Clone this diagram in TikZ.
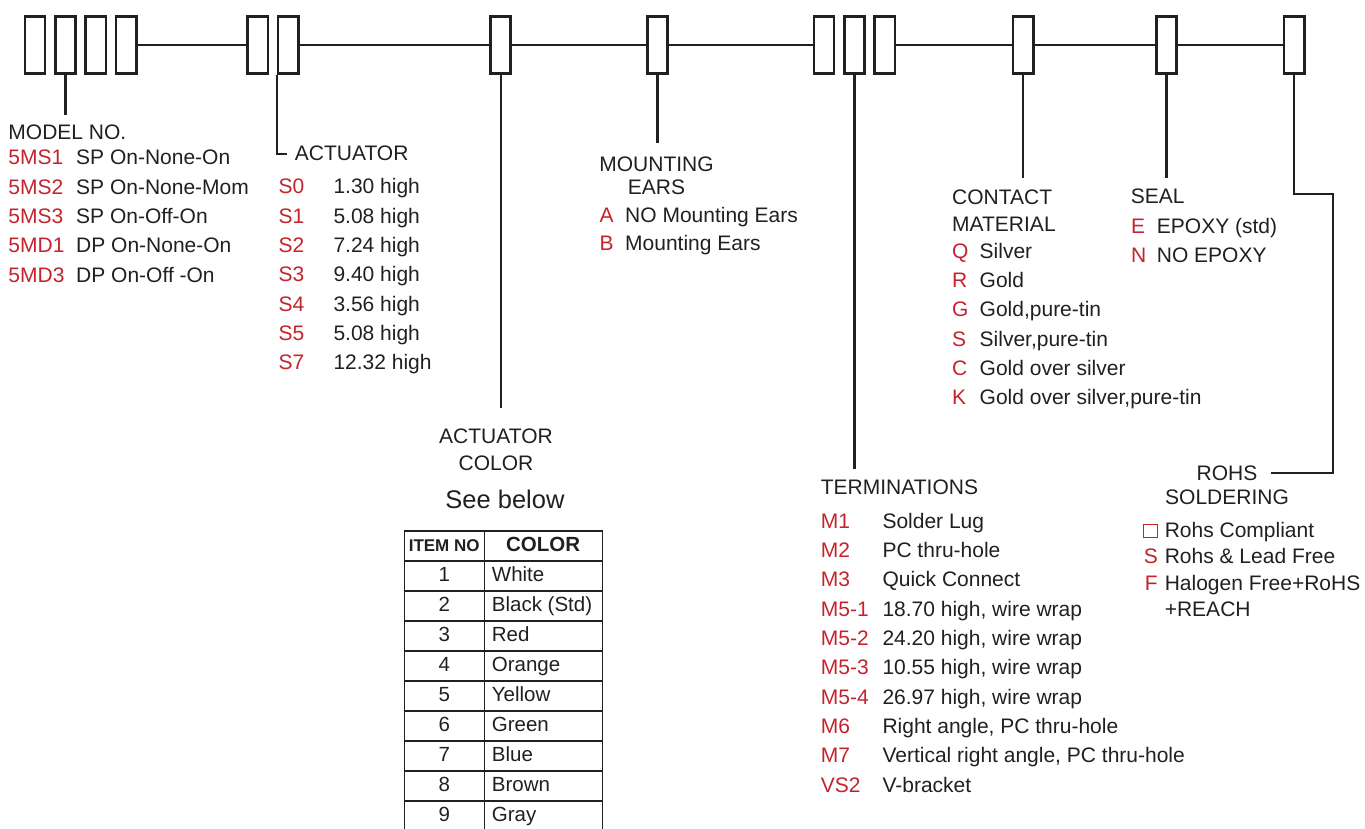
\documentclass[tikz,border=0pt]{standalone}
\usepackage{fontspec}
\setmainfont{Liberation Sans}
\usepackage{array}
\usetikzlibrary{positioning}

\definecolor{codered}{RGB}{196,35,45}
\definecolor{inkblack}{RGB}{35,31,32}

% red code column + description column
\newcommand{\codelist}[2]{\begin{tabular}[t]{@{}>{\leavevmode\color{codered}}p{#1}@{}l@{}}#2\end{tabular}}
\newcommand{\emptybox}{\textcolor{codered}{\setlength\fboxsep{0pt}\setlength\fboxrule{1.1pt}\fbox{\rule{0pt}{12.4pt}\hspace{12.4pt}}}}

\begin{document}
\begin{tikzpicture}[
  x=1pt, y=-1pt,
  node distance=7.7pt,
  digit/.style={draw=inkblack, line width=2.6pt, minimum width=20.1pt, minimum height=57.5pt, inner sep=0pt},
  lead/.style={draw=inkblack, line width=2.2pt},
  hd/.style={text=inkblack, inner sep=0pt, font=\fontsize{21}{27}\selectfont},
  list/.style={text=inkblack, inner sep=0pt, anchor=base west, font=\fontsize{21}{29.3}\selectfont}
]
\useasboundingbox (0,0) rectangle (1365,829);

% part number boxes
\node[digit] (m1) at (35,45) {};
\node[digit, right=of m1] (m2) {};
\node[digit, right=of m2] (m3) {};
\node[digit, right=of m3] (m4) {};
\node[digit] (a1) at (257.8,45) {};
\node[digit, right=of a1] (a2) {};
\node[digit] (c1) at (500.6,45) {};
\node[digit] (e1) at (657.4,45) {};
\node[digit] (t1) at (824,45) {};
\node[digit, right=of t1] (t2) {};
\node[digit, right=of t2] (t3) {};
\node[digit] (k1) at (1023.2,45) {};
\node[digit] (s1) at (1166.5,45) {};
\node[digit] (r1) at (1294.2,45) {};

\draw[lead] (m4) -- (a1);
\draw[lead] (a2) -- (c1);
\draw[lead] (c1) -- (e1);
\draw[lead] (e1) -- (t1);
\draw[lead] (t3) -- (k1);
\draw[lead] (k1) -- (s1);
\draw[lead] (s1) -- (r1);

% leader ends
\coordinate (modelend) at (m2.south |- 0,115);
\coordinate (acthook) at (287,154);
\coordinate (colorend) at (c1.south |- 0,408);
\coordinate (mountend) at (e1.south |- 0,143);
\coordinate (termend) at (t2.south |- 0,469);
\coordinate (contactend) at (k1.south |- 0,178);
\coordinate (sealend) at (s1.south |- 0,178);
\coordinate (rohsbend) at (1333,194);
\coordinate (rohsend) at (1271,473);

\draw[lead] (m2.south) -- (modelend);
\draw[lead] (a2.south west) |- (acthook);
\draw[lead] (c1.south) -- (colorend);
\draw[lead] (e1.south) -- (mountend);
\draw[lead] (t2.south) -- (termend);
\draw[lead] (k1.south) -- (contactend);
\draw[lead] (s1.south) -- (sealend);
\draw[lead] (r1.south) |- (rohsbend) |- (rohsend);

% model
\node[hd, anchor=base west] (modelhd) at (8.3,140) {MODEL NO.};
\node[list] (models) at (8.3,165) {\codelist{67.7pt}{5MS1 & SP On-None-On\\ 5MS2 & SP On-None-Mom\\ 5MS3 & SP On-Off-On\\ 5MD1 & DP On-None-On\\ 5MD3 & DP On-Off -On}};

% actuator
\node[hd, anchor=base west] (acthd) at (294.7,160.7) {ACTUATOR};
\node[list] (acts) at (278.3,194) {\codelist{55pt}{S0 & 1.30 high\\ S1 & 5.08 high\\ S2 & 7.24 high\\ S3 & 9.40 high\\ S4 & 3.56 high\\ S5 & 5.08 high\\ S7 & 12.32 high}};

% mounting ears
\node[hd, align=center, anchor=base, font=\fontsize{21}{23.3}\selectfont] (mounthd) at (656.5,195) {MOUNTING\\EARS};
\node[list, font=\fontsize{21}{28.3}\selectfont] (mounts) at (599.3,222.7) {\codelist{25.7pt}{A & NO Mounting Ears\\ B & Mounting Ears}};

% contact material
\node[hd, align=left, anchor=base west] (contacthd) at (952,231) {CONTACT\\MATERIAL};
\node[list] (contacts) at (952,258.3) {\codelist{27.5pt}{Q & Silver\\ R & Gold\\ G & Gold,pure-tin\\ S & Silver,pure-tin\\ C & Gold over silver\\ K & Gold over silver,pure-tin}};

% seal
\node[hd, anchor=base west] (sealhd) at (1130.7,204) {SEAL};
\node[list] (seals) at (1131,233.3) {\codelist{25.7pt}{E & EPOXY (std)\\ N & NO EPOXY}};

% actuator color
\node[hd, align=center, anchor=base] (colorhd) at (496,470) {ACTUATOR\\COLOR};
\node[text=inkblack, inner sep=0pt, anchor=base, font=\fontsize{25.5}{30}\selectfont] (seebelow) at (505,508.3) {See below};
\node[anchor=north west, inner sep=0pt, text=inkblack] (colortab) at (403.3,530) {%
  \setlength\tabcolsep{0pt}\setlength\arrayrulewidth{1.4pt}\fontsize{20.5}{28.6}\selectfont
  \begin{tabular}{|>{\centering\arraybackslash}p{78.6pt}|>{\hspace{7pt}}p{116.6pt}|}
  \hline
  {\fontsize{17}{17}\selectfont\bfseries ITEM NO} & \multicolumn{1}{c|}{\fontsize{20.5}{20.5}\selectfont\bfseries COLOR}\\ \hline
  1 & White\\ \hline
  2 & Black (Std)\\ \hline
  3 & Red\\ \hline
  4 & Orange\\ \hline
  5 & Yellow\\ \hline
  6 & Green\\ \hline
  7 & Blue\\ \hline
  8 & Brown\\ \hline
  9 & Gray
  \end{tabular}};

% terminations
\node[hd, anchor=base west] (termhd) at (820.7,494) {TERMINATIONS};
\node[list] (terms) at (820.7,528.3) {\codelist{61.6pt}{M1 & Solder Lug\\ M2 & PC thru-hole\\ M3 & Quick Connect\\ M5-1 & 18.70 high, wire wrap\\ M5-2 & 24.20 high, wire wrap\\ M5-3 & 10.55 high, wire wrap\\ M5-4 & 26.97 high, wire wrap\\ M6 & Right angle, PC thru-hole\\ M7 & Vertical right angle, PC thru-hole\\ VS2 & V-bracket}};

% rohs soldering
\node[hd, align=center, anchor=base, font=\fontsize{21}{23.3}\selectfont] (rohshd) at (1227,504) {ROHS\\SOLDERING};
\node[list, font=\fontsize{21}{26.5}\selectfont] (rohs) at (1143,537.3) {\begin{tabular}[t]{@{}>{\color{codered}}r@{\hspace{7pt}}l@{}}\emptybox & Rohs Compliant\\ S & Rohs \& Lead Free\\ F & Halogen Free+RoHS\\ & +REACH\end{tabular}};

\end{tikzpicture}
\end{document}
